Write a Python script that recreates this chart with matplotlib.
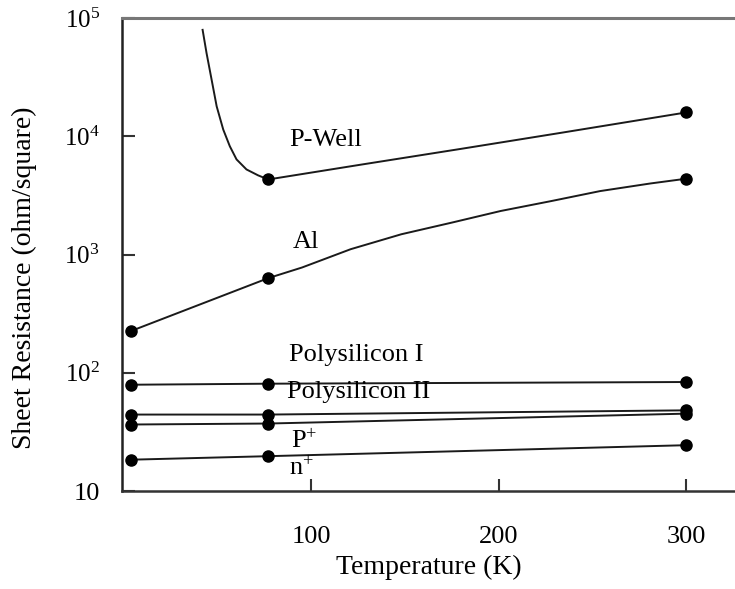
"""
Sheet resistance vs temperature for CMOS layers (log scale),
redrawn from a scanned figure.
"""

import matplotlib
matplotlib.use("Agg")
import matplotlib.pyplot as plt

plt.rcParams['font.family'] = ['Liberation Serif', 'DejaVu Serif']
plt.rcParams['mathtext.fontset'] = 'custom'
plt.rcParams['mathtext.rm'] = 'Liberation Serif'
plt.rcParams['mathtext.it'] = 'Liberation Serif:italic'

# values (temperature in K, resistance in ohm/square)
pwell_T = [42, 44.1, 46.8, 49.5, 53, 56.5, 60.1, 65.4, 71.6, 77, 127, 180, 233, 300]
pwell_R = [79400, 50500, 30100, 17900, 11400, 8240, 6370, 5240, 4670, 4310,
           5770, 7830, 10680, 15900]
pwell_dot_T = [77, 300]
pwell_dot_R = [4310, 15900]

al_T = [4, 77, 95, 121, 148, 175, 201, 228, 254, 281, 300]
al_R = [226, 631, 776, 1109, 1483, 1862, 2333, 2831, 3437, 3990, 4375]
al_dot_T = [4, 77, 300]
al_dot_R = [226, 631, 4375]

meas_T = [4, 77, 300]
poly1_R = [79.2, 80.8, 83.5]
poly2a_R = [44.3, 44.3, 48.1]
poly2b_R = [36.5, 37.2, 45.1]
pn_R = [18.4, 19.7, 24.4]

labels = ['P-Well', 'Al', 'Polysilicon I', 'Polysilicon II',
          r'P$^{+}$', r'n$^{+}$']
label_T = [88, 90, 88, 87, 89, 88]
label_R = [9360, 1270, 141, 69, 26.1, 15.6]

x_ticks = [100, 200, 300]
y_ticks = [10, 1e2, 1e3, 1e4, 1e5]
y_ticklabels = ['10', r'$10^{2}$', r'$10^{3}$', r'$10^{4}$', r'$10^{5}$']

fig = plt.figure(figsize=(7.35, 5.89), dpi=100)
ax = fig.add_axes([122 / 735, 1 - 491 / 589, 1 - 122 / 735, (491 - 18) / 589])

line_kw = dict(color='#1a1a1a', linewidth=1.4)
dot_kw = dict(linestyle='none', marker='o', color='black', markersize=8)

ax.plot(pwell_T, pwell_R, **line_kw)
ax.plot(pwell_dot_T, pwell_dot_R, **dot_kw)
ax.plot(al_T, al_R, **line_kw)
ax.plot(al_dot_T, al_dot_R, **dot_kw)
for series in [poly1_R, poly2a_R, poly2b_R, pn_R]:
    ax.plot(meas_T, series, **line_kw)
    ax.plot(meas_T, series, **dot_kw)

for txt, t, r in zip(labels, label_T, label_R):
    ax.text(t, r, txt, fontsize=19, ha='left', va='center')

ax.set_yscale('log')
ax.set_xlim(-1, 326)
ax.set_ylim(10, 1e5)

ax.set_xticks(x_ticks)
ax.set_xticklabels([str(v) for v in x_ticks])
ax.set_yticks(y_ticks)
ax.set_yticklabels(y_ticklabels)
ax.minorticks_off()
ax.tick_params(axis='both', direction='in', length=9, width=1.5, colors='#333333')
ax.tick_params(axis='x', pad=25, labelsize=19, labelcolor='black')
ax.tick_params(axis='y', pad=16, labelsize=18, labelcolor='black')
ax.get_yticklabels()[0].set_fontsize(19)

ax.set_xlabel('Temperature (K)', fontsize=20, labelpad=5)
ax.set_ylabel('Sheet Resistance (ohm/square)', fontsize=20)
ax.yaxis.set_label_coords(-0.138, 0.45)

ax.spines['right'].set_visible(False)
ax.spines['left'].set_color('#222222')
ax.spines['left'].set_linewidth(1.8)
ax.spines['bottom'].set_color('#333333')
ax.spines['bottom'].set_linewidth(1.8)
ax.spines['top'].set_color('#777777')
ax.spines['top'].set_linewidth(2.2)

fig.savefig('out.png', dpi=100)
